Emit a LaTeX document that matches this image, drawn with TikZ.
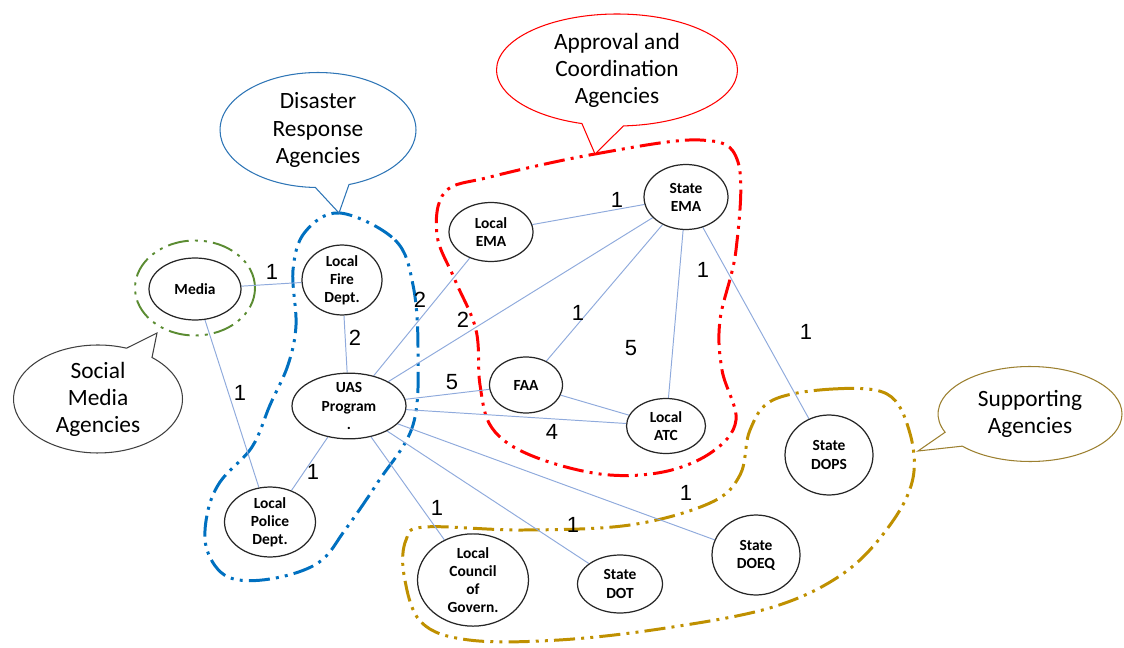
\documentclass[tikz,border=0pt]{standalone}
\usepackage{fontspec}
\setmainfont{Carlito}
\newfontfamily\digitfont{Liberation Sans}
\usepackage{tikz}
\usetikzlibrary{shapes.geometric,shapes.callouts,backgrounds}
\definecolor{linkblue}{HTML}{8FAADC}
\definecolor{grpblue}{HTML}{0070C0}
\definecolor{grpred}{HTML}{FF0000}
\definecolor{grpgreen}{HTML}{5B8C32}
\definecolor{grpgold}{HTML}{BF9000}
\definecolor{bubblue}{HTML}{2E75B6}
\definecolor{bubgold}{HTML}{9C8030}

\begin{document}
\begin{tikzpicture}[
  x=0.02cm, y=-0.02cm,
  agency/.style={ellipse,draw=black!85,line width=0.7pt,fill=white,inner sep=0pt,align=center,
    font=\bfseries\fontsize{8.8}{10.3}\selectfont},
  sz/.style 2 args={minimum width=#1cm,minimum height=#2cm},
  link/.style={draw=linkblue,line width=0.55pt},
  wt/.style={font=\digitfont\fontsize{12.5}{12.5}\selectfont,inner sep=0pt},
  bubble/.style={ellipse callout,callout pointer arc=20,draw,fill=white,line width=0.6pt,
    inner sep=0pt,align=center,font=\fontsize{13.3}{15.4}\selectfont},
  grp/.style={line width=1.7pt,dash pattern=on 12pt off 3.5pt on 1.7pt off 3.5pt on 1.7pt off 3.5pt}]
\useasboundingbox (0,0) rectangle (1124,648);

% agencies
\node[agency,sz={1.84}{1.24}] (media) at (195,289) {Media};
\node[agency,sz={1.6}{1.12}] (fire) at (342,280) {Local\\Fire\\Dept.};
\node[agency,sz={2.28}{1.26}] (uas) at (349,406) {UAS\\Program\\.};
\node[agency,sz={1.82}{1.26}] (police) at (270,522) {Local\\Police\\Dept.};
\node[agency,sz={1.68}{1.18}] (lema) at (491,232) {Local\\EMA};
\node[agency,sz={1.68}{1.3}] (sema) at (686,197) {State\\EMA};
\node[agency,sz={1.46}{1.12}] (faa) at (526,385) {FAA};
\node[agency,sz={1.58}{1.1}] (latc) at (666,426) {Local\\ATC};
\node[agency,sz={1.76}{1.6}] (dops) at (829,455) {State\\DOPS};
\node[agency,sz={1.76}{1.6}] (doeq) at (756,555) {State\\DOEQ};
\node[agency,sz={1.7}{1.16}] (dot) at (620,584) {State\\DOT};
\node[agency,sz={2.22}{1.8}] (council) at (473,580) {Local\\Council\\of\\Govern.};

% callouts
\coordinate (smtip) at (157,333);
\coordinate (drtip) at (339,213);
\coordinate (actip) at (595,154);
\coordinate (satip) at (918,451);
\node[bubble,draw=black!75,sz={3.38}{2.16},callout absolute pointer={(smtip)}] (social) at (98,399) {Social\\Media\\Agencies};
\node[bubble,draw=bubblue,sz={3.92}{2.3},callout absolute pointer={(drtip)}] (disaster) at (318,130) {Disaster\\Response\\Agencies};
\node[bubble,draw=grpred,sz={4.82}{2.24},callout absolute pointer={(actip)}] (approval) at (617,70) {Approval and\\Coordination\\Agencies};
\node[bubble,draw=bubgold,sz={3.68}{1.9},callout absolute pointer={(satip)}] (support) at (1030,414) {Supporting\\Agencies};

\begin{scope}[on background layer]
% group outlines
\draw[grp,grpgreen,line width=1.1pt] (195,288) ellipse [x radius=1.2cm,y radius=0.95cm];
\draw[grp,grpblue] plot[smooth cycle,tension=0.6] coordinates {(340,213) (395,240) (413,285) (418,350) (413,425) (378,482) (345,530) (318,563) (270,579) (228,577) (207,550) (207,515) (220,482) (252,447) (270,405) (288,365) (296,325) (293,270) (305,232)};
\draw[grp,grpred] plot[smooth cycle,tension=0.6] coordinates {(490,177) (595,154) (700,140) (738,162) (736,250) (720,320) (722,370) (736,420) (712,452) (663,472) (600,474) (530,455) (492,428) (480,385) (476,330) (455,280) (437,235) (445,192)};
\draw[grp,grpgold] plot[smooth cycle,tension=0.6] coordinates {(773,400) (833,389) (887,394) (909,430) (913,478) (890,525) (844,573) (773,607) (666,628) (559,640) (469,640) (421,622) (404,575) (406,540) (425,527) (523,530) (630,525) (710,503) (740,475) (750,430)};

% links
\draw[link] (media) -- (fire) node[wt] (w1) at (272,272) {1};
\draw[link] (media) -- (police) node[wt] (w2) at (240,393) {1};
\draw[link] (fire) -- (uas) node[wt] (w3) at (355,338) {2};
\draw[link] (uas) -- (police) node[wt] (w4) at (313,472) {1};
\draw[link] (uas) -- (lema) node[wt] (w5) at (420,300) {2};
\draw[link] (uas) -- (sema) node[wt] (w6) at (463,320) {2};
\draw[link] (uas) -- (faa) node[wt] (w7) at (452,382) {5};
\draw[link] (uas) -- (latc) node[wt] (w8) at (552,432) {4};
\draw[link] (uas) -- (council) node[wt] (w9) at (437,508) {1};
\draw[link] (uas) -- (dot) node[wt] (w10) at (573,525) {1};
\draw[link] (uas) -- (doeq) node[wt] (w11) at (686,493) {1};
\draw[link] (lema) -- (sema) node[wt] (w12) at (617,200) {1};
\draw[link] (sema) -- (faa) node[wt] (w13) at (578,313) {1};
\draw[link] (sema) -- (latc) node[wt] (w14) at (703,270) {1};
\draw[link] (sema) -- (dops) node[wt] (w15) at (806,332) {1};
\draw[link] (faa) -- (latc) node[wt] (w16) at (631,348) {5};
\end{scope}
\end{tikzpicture}
\end{document}
